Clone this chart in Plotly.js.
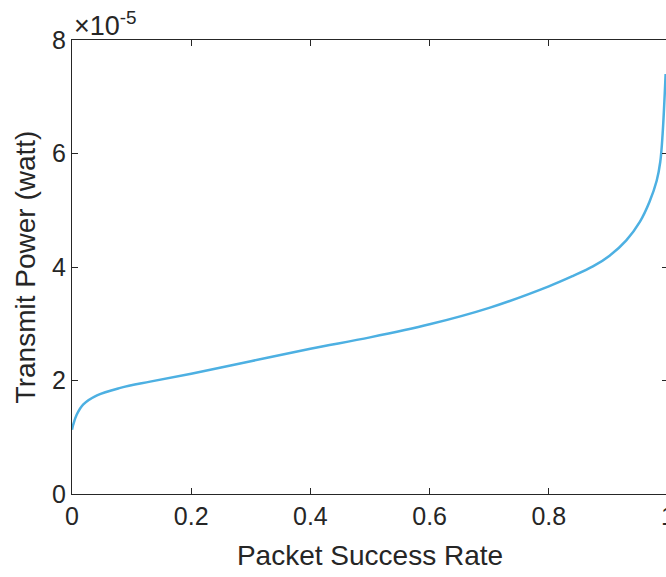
<!DOCTYPE html>
<html>
<head>
<meta charset="utf-8">
<script src="https://cdn.plot.ly/plotly-3.0.1.min.js"></script>
<style>
html,body{margin:0;padding:0;overflow:hidden;background:#fff;width:666px;height:577px;}
#chart{width:672px;height:577px;}
</style>
</head>
<body>
<div id="chart"></div>
<script>
// Packet success rate (x) and transmit power in units of 1e-5 W (y)
const successRate = [0, 0.002, 0.008, 0.019, 0.042, 0.081, 0.131, 0.200, 0.300, 0.400, 0.500, 0.600, 0.700, 0.800, 0.840, 0.874, 0.902, 0.930, 0.953, 0.969, 0.981, 0.987, 0.991, 0.996];
const powerE5 =     [1.13, 1.22, 1.40, 1.58, 1.74, 1.87, 1.98, 2.12, 2.34, 2.56, 2.76, 2.99, 3.28, 3.66, 3.84, 4.01, 4.20, 4.47, 4.80, 5.15, 5.52, 5.85, 6.35, 7.40];
const xTicks = [0, 0.2, 0.4, 0.6, 0.8, 1];
const xTickText = ['0', '0.2', '0.4', '0.6', '0.8', '1'];
const yTicks = [0, 2, 4, 6, 8];
const yTickText = ['0', '2', '4', '6', '8'];
const exponentLabel = '×10<sup>-5</sup>';

const axisColor = '#262626';
const fontFam = 'Liberation Sans, Arial, Helvetica, sans-serif';

const trace = {
  x: successRate, y: powerE5, type: 'scatter', mode: 'lines',
  line: {color: '#4DB0E2', width: 2.5, shape: 'spline', smoothing: 1},
  hoverinfo: 'none'
};

const layout = {
  width: 672, height: 577,
  margin: {l: 72, r: 4, t: 40, b: 83},
  paper_bgcolor: '#fff', plot_bgcolor: '#fff',
  showlegend: false,
  font: {family: fontFam, color: axisColor, size: 25},
  xaxis: {
    range: [0, 1], tickvals: xTicks, ticktext: xTickText,
    ticks: 'inside', ticklen: 6, tickwidth: 1, tickcolor: axisColor,
    showline: true, linecolor: axisColor, linewidth: 1, mirror: 'ticks',
    showgrid: false, zeroline: false, ticklabeloverflow: 'allow',
    tickfont: {size: 25, color: axisColor},
    title: {text: 'Packet Success Rate', font: {size: 28, color: axisColor}, standoff: 16}
  },
  yaxis: {
    range: [0, 8], tickvals: yTicks, ticktext: yTickText,
    ticks: 'inside', ticklen: 6, tickwidth: 1, tickcolor: axisColor,
    showline: true, linecolor: axisColor, linewidth: 1, mirror: 'ticks',
    showgrid: false, zeroline: false,
    tickfont: {size: 25, color: axisColor},
    title: {text: 'Transmit Power (watt)', font: {size: 28, color: axisColor}, standoff: 8}
  },
  annotations: [{
    text: exponentLabel, xref: 'paper', yref: 'paper', x: 0, y: 1,
    xanchor: 'left', yanchor: 'bottom', showarrow: false, xshift: 0, yshift: -3,
    font: {size: 27, color: axisColor, family: fontFam}
  }]
};

Plotly.newPlot('chart', [trace], layout, {displayModeBar: false, staticPlot: true});
</script>
</body>
</html>
